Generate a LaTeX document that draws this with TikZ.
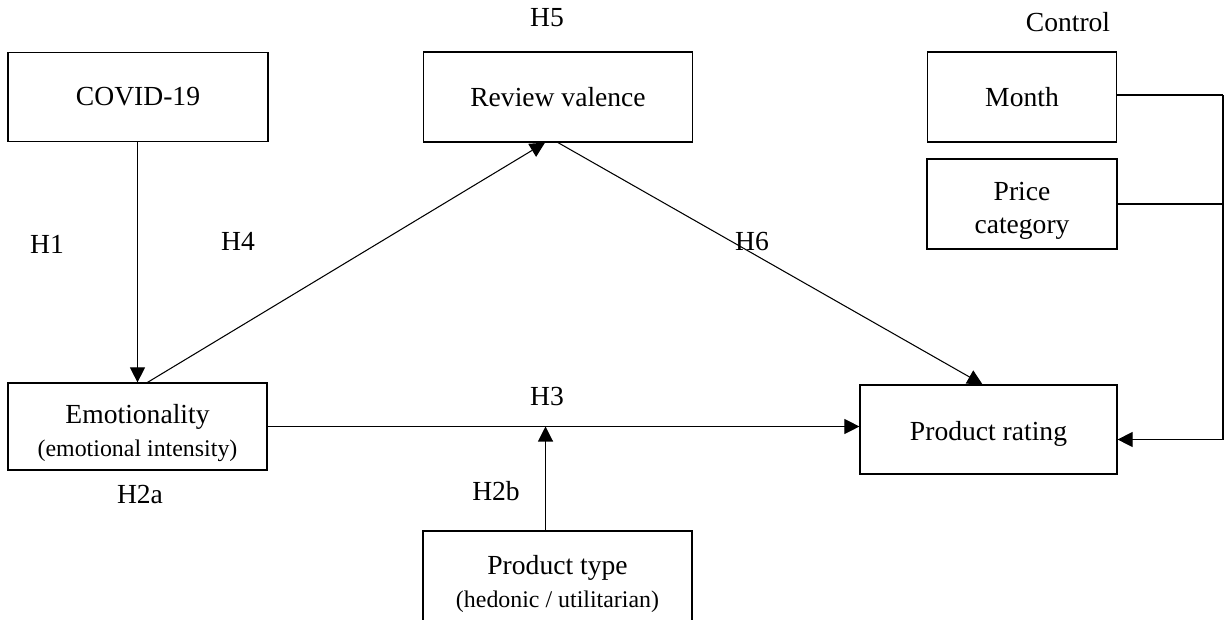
\documentclass[tikz,border=0pt]{standalone}
\usepackage{fontspec}
\setmainfont{Liberation Serif}
\usetikzlibrary{positioning, calc, arrows.meta}

\begin{document}
\begin{tikzpicture}[
        x=0.02cm, y=-0.02cm,
        font=\fontsize{15.7pt}{19pt}\selectfont,
        construct/.style={rectangle, draw, line width=0.7pt, align=center, inner sep=2pt},
        hyp/.style={inner sep=0pt},
        arrow/.style={-{Triangle[length=0.3cm, width=0.3cm]}, line width=0.6pt}
    ]
    \useasboundingbox (0,0) rectangle (1227,619);

    % Nodes
    \node (covid) [construct, minimum width=5.2cm, minimum height=1.78cm] at (138,97) {COVID-19};
    \node (valence) [construct, minimum width=5.38cm, minimum height=1.8cm] at (558,97) {Review valence};
    \node (month) [construct, minimum width=3.78cm, minimum height=1.8cm] at (1022,97) {Month};
    \node (price) [construct, minimum width=3.8cm, minimum height=1.8cm] at (1022,204)
        {\rule{0pt}{18pt}Price\\category};
    \node (emo) [construct, minimum width=5.18cm, minimum height=1.74cm] at (137.5,426.5)
        {\rule{0pt}{18pt}Emotionality\\{\fontsize{13.6pt}{16pt}\selectfont (emotional intensity)}};
    \node (rating) [construct, minimum width=5.14cm, minimum height=1.78cm] at (988.5,429.5)
        {\rule{0pt}{16pt}Product rating};
    \node (ptype) [construct, minimum width=5.38cm, minimum height=1.8cm] at (557.5,576)
        {\rule{0pt}{20pt}Product type\\{\fontsize{13.6pt}{16pt}\selectfont (hedonic / utilitarian)}};

    % Labels
    \node (h5) [hyp] at (547,18) {H5};
    \node (control) [hyp] at (1068,22) {Control};
    \node (h1) [hyp] at (47,244) {H1};
    \node (h4) [hyp] at (238,241) {H4};
    \node (h6) [hyp] at (752,241) {H6};
    \node (h3) [hyp] at (547,396) {H3};
    \node (h2a) [hyp] at (140,494) {H2a};
    \node (h2b) [hyp] at (496,491) {H2b};

    % Arrows
    \draw [arrow] (covid.south -| emo.north) -- (emo.north);
    \draw [arrow] ($(emo.north)+(10,0)$) -- ($(valence.south)+(-13,0)$);
    \draw [arrow] (valence.south) -- ($(rating.north)+(-6,0)$);
    \draw [arrow] (emo.east) -- (emo.east -| rating.west);
    \draw [arrow] ($(ptype.north)+(-12,0)$) -- ($(ptype.north |- emo.east)+(-12,0)$);

    % Control variables
    \coordinate (bus) at (1223,95);
    \draw [line width=0.6pt] (month.east |- bus) -- (bus);
    \draw [line width=0.6pt] (price.east) -- (price.east -| bus);
    \draw [arrow] (bus) -- ($(bus |- rating.east)+(0,10)$) -- ($(rating.east)+(0,10)$);
\end{tikzpicture}
\end{document}
